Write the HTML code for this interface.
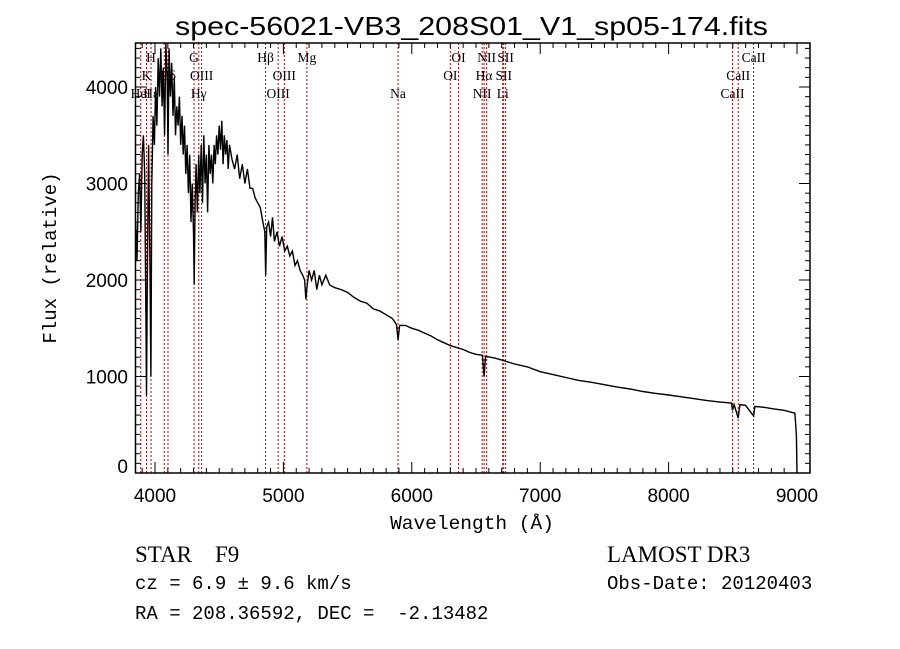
<!DOCTYPE html>
<html><head><meta charset="utf-8"><style>
html,body{margin:0;padding:0;background:#fff;width:900px;height:649px;overflow:hidden}
svg{display:block}
.t{font-family:"Liberation Sans",sans-serif;fill:#000}
.m{font-family:"Liberation Mono",monospace;fill:#000}
.s{font-family:"Liberation Serif",serif;fill:#000}
</style></head><body>
<svg id="c" width="900" height="649" xmlns="http://www.w3.org/2000/svg">
<text class="t" x="175" y="35" font-size="26" textLength="593" lengthAdjust="spacingAndGlyphs">spec-56021-VB3_208S01_V1_sp05-174.fits</text>
<text class="m" x="0" y="0" font-size="19" text-anchor="middle" transform="translate(56,258) rotate(-90)">Flux (relative)</text>
<text class="m" x="472" y="529" font-size="19.5" text-anchor="middle">Wavelength (Å)</text>
<text class="s" x="135" y="562" font-size="23" xml:space="preserve">STAR    F9</text>
<text class="s" x="607" y="562" font-size="23">LAMOST DR3</text>
<text class="m" x="135" y="589" font-size="19">cz = 6.9 ± 9.6 km/s</text>
<text class="m" x="607" y="589" font-size="19">Obs-Date: 20120403</text>
<text class="m" x="135" y="619" font-size="19" xml:space="preserve">RA = 208.36592, DEC =  -2.13482</text>
<g id="plot"></g>
</svg>
<script>
const wave=[3850,3860,3870,3880,3890,3900,3910,3920,3930,3934,3940,3950,3960,3968,3975,3985,3995,4005,4015,4025,4035,4045,4055,4065,4075,4085,4095,4101,4110,4120,4130,4140,4150,4160,4170,4180,4190,4200,4210,4220,4230,4240,4250,4260,4270,4280,4290,4300,4305,4312,4320,4330,4340,4350,4360,4370,4380,4390,4400,4410,4420,4430,4440,4450,4460,4470,4480,4490,4500,4510,4520,4530,4540,4550,4560,4570,4580,4600,4620,4640,4660,4680,4700,4720,4740,4760,4780,4800,4820,4840,4855,4862,4870,4885,4900,4915,4930,4950,4970,4990,5010,5030,5050,5070,5090,5110,5130,5150,5165,5175,5185,5200,5220,5240,5260,5280,5300,5330,5360,5400,5450,5500,5550,5600,5650,5700,5750,5800,5850,5880,5893,5905,5950,6000,6050,6100,6150,6200,6250,6300,6350,6400,6450,6500,6550,6563,6575,6650,6700,6800,6900,7000,7100,7200,7300,7400,7500,7600,7700,7800,7900,8000,8100,8200,8300,8400,8490,8498,8510,8542,8555,8600,8662,8672,8750,8813,8900,8984,8995,9000];
const flux=[2600,2200,2900,3100,2500,3300,3500,3100,1500,800,2000,3400,2200,1000,3000,3700,3400,4000,3600,4300,3900,4400,3800,4200,3500,4450,4100,3300,4400,3900,4250,3700,4100,3500,3800,3600,3900,3400,3700,3300,3600,3100,3400,2900,3300,2600,3000,2500,1950,2800,3200,2700,3300,2900,3400,2800,3500,3000,3300,2700,3400,3100,3300,3000,3400,3200,3500,3300,3600,3350,3650,3200,3500,3300,3450,3150,3400,3250,3150,3300,3050,3200,3000,3150,2950,2950,2850,2800,2750,2600,2500,2050,2550,2600,2450,2650,2400,2500,2350,2450,2300,2350,2250,2300,2150,2200,2100,2050,2000,1800,1950,2100,2000,2100,1900,2050,1950,2050,1950,1920,1900,1870,1820,1780,1760,1700,1680,1640,1600,1540,1380,1530,1530,1500,1480,1450,1420,1380,1350,1320,1300,1280,1250,1230,1220,1000,1210,1190,1170,1130,1100,1050,1020,990,960,940,915,890,870,845,825,808,790,770,750,735,725,650,710,570,710,700,590,690,680,665,650,620,390,0];
const lineWaves=[3889,3934,3969,4072,4101,4304,4341,4363,4861,4959,5007,5183,5893,6300,6364,6548,6563,6583,6708,6716,6731,8498,8542,8662];
const lineLabels=[["H",3969,1],["K",3934,2],["Hδ",4101,2],["HeI",3889,3],["Hε",3969,3],["G",4304,1],["OIII",4363,2],["Hγ",4341,3],["Hβ",4861,1],["OIII",5007,2],["OIII",4959,3],["Mg",5183,1],["Na",5893,3],["OI",6364,1],["OI",6300,2],["NII",6583,1],["SII",6731,1],["Hα",6563,2],["SII",6716,2],["NII",6548,3],["Li",6708,3],["CaII",8662,1],["CaII",8542,2],["CaII",8498,3]];
const xTicks=[4000,5000,6000,7000,8000,9000];
const yTicks=[0,1000,2000,3000,4000];

const L=135.5,R=810,T=43,B=473;
const X=w=>155+(w-4000)*0.1284;
const Y=f=>473-f*0.0965;
const NS="http://www.w3.org/2000/svg";
const g=document.getElementById('plot');
function mk(tag,attrs,parent){const e=document.createElementNS(NS,tag);for(const k in attrs)e.setAttribute(k,attrs[k]);(parent||g).appendChild(e);return e;}

const lg=mk('g',{});


lineWaves.forEach(w=>{
  const l=mk('line',{x1:X(w),x2:X(w),y1:T,y2:B,stroke:'#c00000','stroke-width':1,'stroke-dasharray':'2,2'},lg);
  
  
});
const rowY=[0,62,80,98];
lineLabels.forEach(d=>{
  const t=mk('text',{x:X(d[1]),y:rowY[d[2]],'font-size':13.5,'text-anchor':'middle','font-family':'"Liberation Serif",serif'},lg);
  t.textContent=d[0];
  
  
});

let pts=[];
for(let i=0;i<wave.length;i++){pts.push(X(wave[i]).toFixed(1)+','+Y(flux[i]).toFixed(1));}
const sp=mk('polyline',{points:pts.join(' '),fill:'none',stroke:'#000','stroke-width':1.4,'stroke-linejoin':'miter'});



const fr=mk('rect',{x:L,y:T,width:R-L,height:B-T,fill:'none',stroke:'#000','stroke-width':1.5});



const ax=mk('g',{stroke:'#000','stroke-width':1});


for(let w=3900;w<=9100;w+=100){const x=X(w);if(x<L||x>R)continue;const len=(w%1000===0)?11:5;
  mk('line',{x1:x,x2:x,y1:B,y2:B-len},ax);mk('line',{x1:x,x2:x,y1:T,y2:T+len},ax);}
for(let f=0;f<=4400;f+=100){const y=Y(f);if(y<T)continue;const len=(f%1000===0)?11:5;
  mk('line',{x1:L,x2:L+len,y1:y,y2:y},ax);mk('line',{x1:R,x2:R-len,y1:y,y2:y},ax);}
xTicks.forEach(w=>{const t=mk('text',{x:X(w),y:502,'font-size':19,'text-anchor':'middle',class:'t'});t.textContent=w;
  
  });
yTicks.forEach(f=>{const t=mk('text',{x:128,y:Math.min(Y(f)+7,473),'font-size':19,'text-anchor':'end',class:'t'});t.textContent=f;
  
  });
</script>
</body></html>
